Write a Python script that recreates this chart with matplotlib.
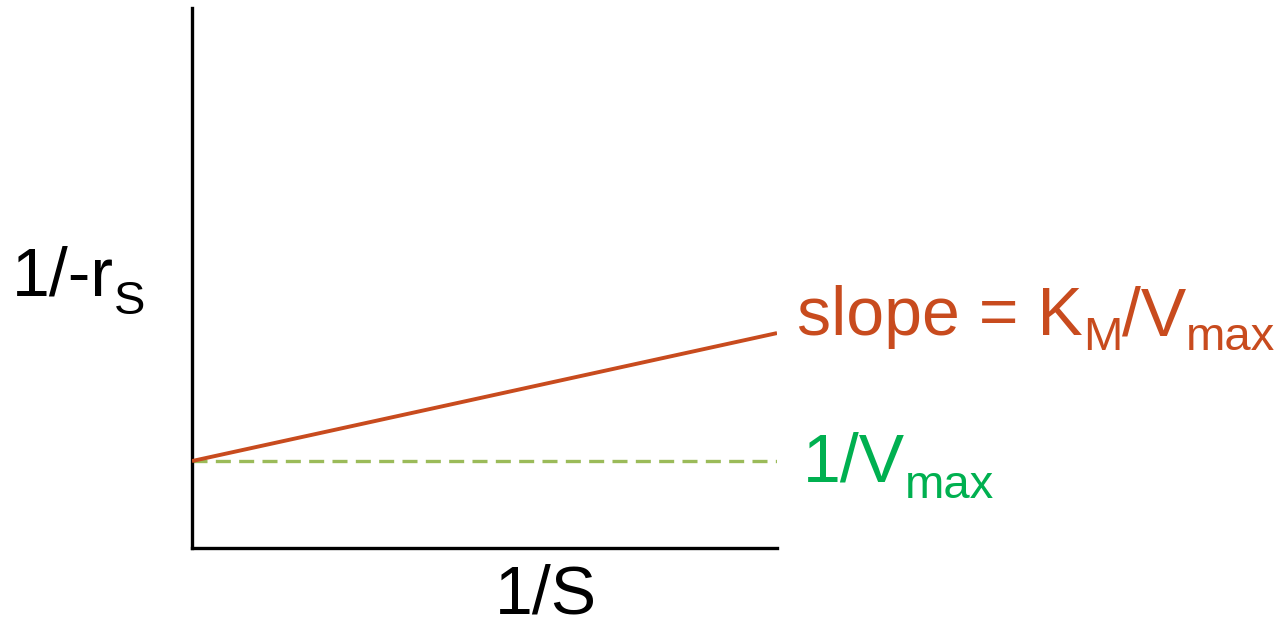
import numpy as np
import matplotlib
matplotlib.use("Agg")
import matplotlib.pyplot as plt
import matplotlib.patheffects as pe

plt.rcParams['font.family'] = ['Liberation Sans', 'DejaVu Sans']

W, H = 1284, 628

# Lineweaver-Burk sketch: 1/-rS against 1/S
x_vals = [0.0, 1.0]
y_line = [0.161, 0.398]      # intercept 1/Vmax, slope KM/Vmax
y_intercept = [0.161, 0.161]

orange = '#C84B1E'
green_text = '#00B050'
green_dash = '#9BBB59'

fig = plt.figure(figsize=(W / 100, H / 100), dpi=100)
ax = fig.add_axes([192 / W, 80 / H, 585 / W, 540 / H])
ax.set_xlim(0, 1)
ax.set_ylim(0, 1)

ax.plot(x_vals, y_intercept, color=green_dash, lw=2.4, ls=(0, (4.5, 2.5)),
        solid_capstyle='butt', dash_capstyle='butt', zorder=2)
ax.plot(x_vals, y_line, color=orange, lw=2.8, solid_capstyle='butt', zorder=3)

# axes with a soft shadow
shadow = [pe.SimplePatchShadow(offset=(2, -2), shadow_rgbFace='0.6', alpha=0.4), pe.Normal()]
for side in ['top', 'right']:
    ax.spines[side].set_visible(False)
for side in ['left', 'bottom']:
    ax.spines[side].set_linewidth(2.4)
    ax.spines[side].set_color('black')
    ax.spines[side].set_path_effects(shadow)
ax.set_xticks([])
ax.set_yticks([])

renderer = fig.canvas.get_renderer()


def rich_text(x_px, base_px, pieces, color):
    # pieces: (text, fontsize, drop below baseline in px)
    x = x_px
    for s, size, drop in pieces:
        t = fig.text(x / W, 1 - (base_px + drop) / H, s, fontsize=size,
                     color=color, va='baseline', ha='left')
        x = t.get_window_extent(renderer).x1


fs = 49
sub = 34
rich_text(797, 335, [('slope = K', fs, 0), ('M', sub, 15), ('/V', fs, 0), ('max', sub, 15)], orange)
rich_text(803, 482, [('1/V', fs, 0), ('max', sub, 16)], green_text)
rich_text(12, 296, [('1/-r', fs, 0), ('S', sub, 18)], 'black')
fig.text(546 / W, 1 - 614 / H, '1/S', color='black', fontsize=fs, va='baseline', ha='center')

fig.savefig('out.png', dpi=100)
